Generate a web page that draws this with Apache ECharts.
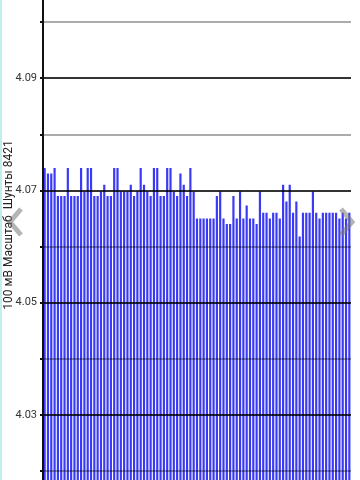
<!DOCTYPE html>
<html>
<head>
<meta charset="utf-8">
<script src="https://cdn.jsdelivr.net/npm/echarts@6/dist/echarts.min.js"></script>
<style>
html,body{margin:0;padding:0;background:#fff;}
#c{width:360px;height:480px;}
</style>
</head>
<body>
<div id="c"></div>
<script>
var axisTitle = '100 мВ Масштаб  Шунты 8421';
var values = [
  4.074, 4.073, 4.073, 4.074, 4.069, 4.069, 4.069, 4.074, 4.069, 4.069,
  4.069, 4.074, 4.0698, 4.074, 4.074, 4.069, 4.069, 4.0698, 4.071, 4.069,
  4.069, 4.074, 4.074, 4.0698, 4.0698, 4.0698, 4.071, 4.069, 4.0698, 4.074,
  4.071, 4.0698, 4.069, 4.074, 4.074, 4.069, 4.069, 4.074, 4.074, 4.0698,
  4.069, 4.073, 4.071, 4.069, 4.074, 4.0698, 4.065, 4.065, 4.065, 4.065,
  4.065, 4.065, 4.069, 4.0698, 4.065, 4.064, 4.064, 4.069, 4.065, 4.0698,
  4.065, 4.0673, 4.065, 4.065, 4.064, 4.0698, 4.066, 4.066, 4.065, 4.066,
  4.066, 4.065, 4.071, 4.068, 4.071, 4.066, 4.068, 4.0618, 4.066, 4.066,
  4.066, 4.0698, 4.066, 4.065, 4.066, 4.066, 4.066, 4.066, 4.066, 4.065,
  4.066, 4.065, 4.066
];
var categories = values.map(function (v, i) { return String(i + 1); });
var yMin = 4.01, yMax = 4.11, yStep = 0.01;

var chart = echarts.init(document.getElementById('c'), null, {renderer: 'canvas'});
chart.setOption({
  animation: false,
  backgroundColor: '#ffffff',
  grid: {left: 43, right: 9, top: -34, bottom: -47, containLabel: false, outerBoundsMode: 'none'},
  xAxis: {
    type: 'category',
    data: categories,
    show: false,
    boundaryGap: true
  },
  yAxis: {
    type: 'value',
    min: yMin, max: yMax, interval: yStep,
    z: 5,
    axisLine: {show: true, lineStyle: {color: '#111', width: 2}},
    axisTick: {show: true, length: 3, lineStyle: {color: '#111', width: 2}},
    axisLabel: {
      margin: 6,
      color: '#333',
      fontSize: 11,
      fontFamily: 'Roboto',
      formatter: function (v) {
        var k = Math.round(v * 100);
        return (k % 2 === 1) ? v.toFixed(2) : '';
      }
    },
    splitLine: {show: true, lineStyle: {width: 2, color: ['rgba(0,0,0,0.8)', 'rgba(0,0,0,0.33)']}}
  },
  series: [{
    type: 'bar',
    data: values,
    barWidth: '66%',
    itemStyle: {color: '#3a3af6'},
    z: 2
  }],
  graphic: [
    {type: 'rect', left: 0, top: 0, shape: {x: 0, y: 0, width: 2, height: 480}, style: {fill: '#bff0f0'}, z: 10},
    {type: 'text', x: 9, y: 225, rotation: Math.PI / 2, z: 10,
      style: {text: axisTitle, fill: '#222', font: '12px Roboto', textAlign: 'center', textVerticalAlign: 'middle'}},
    {type: 'polyline', z: 11, shape: {points: [[21, 209], [10, 222], [21, 235]]},
      style: {stroke: 'rgba(120,120,120,0.55)', lineWidth: 5, fill: null}},
    {type: 'polyline', z: 11, shape: {points: [[341, 209], [352, 222], [341, 235]]},
      style: {stroke: 'rgba(120,120,120,0.55)', lineWidth: 5, fill: null}}
  ]
});
</script>
</body>
</html>
